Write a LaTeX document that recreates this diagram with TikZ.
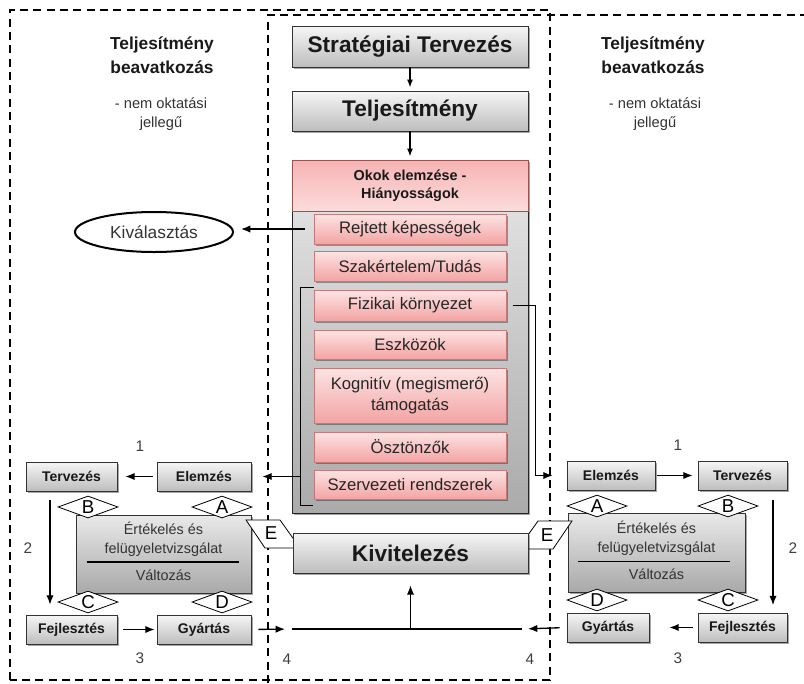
\documentclass[tikz,border=0pt]{standalone}
\usepackage{fontspec}
\setmainfont{Liberation Sans}
\usetikzlibrary{shapes.geometric,shadows,calc,arrows.meta}

\definecolor{gtop}{HTML}{F6F6F6}
\definecolor{gbot}{HTML}{BDBDBD}
\definecolor{etop}{HTML}{E9E9E9}
\definecolor{ebot}{HTML}{A9A9A9}
\definecolor{ptop}{HTML}{E8E8E8}
\definecolor{pbot}{HTML}{AAAAAA}
\definecolor{htop}{HTML}{F6B3B3}
\definecolor{hbot}{HTML}{FCDCDC}
\definecolor{hline}{HTML}{9A5252}
\definecolor{itop}{HTML}{FDE4E4}
\definecolor{ibot}{HTML}{F3A3A3}
\definecolor{iline}{HTML}{C47A7A}

\tikzset{
  shadowed/.style={drop shadow={shadow xshift=1.6pt,shadow yshift=-1.6pt,fill=black,opacity=0.35}},
  graybox/.style={shadowed,draw=black!80,line width=0.6pt,top color=gtop,bottom color=gbot,align=center,text=black!90,inner sep=0pt},
  bigtitle/.style={graybox,font=\fontsize{17}{20}\selectfont\bfseries},
  stepbox/.style={graybox,font=\fontsize{10.5}{12}\selectfont\bfseries},
  evalbox/.style={shadowed,draw=black!80,line width=0.6pt,top color=etop,bottom color=ebot,inner sep=0pt},
  evaltext/.style={font=\fontsize{10.8}{14.25}\selectfont,text=black!80,align=center,inner sep=0pt},
  panelbox/.style={shadowed,draw=black!85,line width=0.7pt,top color=ptop,bottom color=pbot,inner sep=0pt},
  causehead/.style={draw=hline,line width=0.6pt,top color=htop,bottom color=hbot,inner sep=0pt,
    font=\fontsize{10.8}{13.5}\selectfont\bfseries,align=center,text=black!90},
  causebox/.style={shadowed,draw=iline,line width=0.5pt,top color=itop,bottom color=ibot,inner sep=0pt,
    font=\fontsize{12.5}{15.75}\selectfont,text=black!85,align=center,minimum width=144pt},
  letterbox/.style={diamond,draw,fill=white,line width=0.6pt,inner sep=0pt,aspect=2.7,
    minimum width=45pt,minimum height=16.5pt,font=\fontsize{14}{14}\selectfont},
  eshape/.style={draw,fill=white,line width=0.6pt},
  eletter/.style={font=\fontsize{14}{14}\selectfont,inner sep=0pt},
  numlabel/.style={font=\fontsize{11.5}{12}\selectfont,text=black!75},
  headtitle/.style={font=\fontsize{13}{18}\selectfont\bfseries,align=center,text=black!90},
  headsub/.style={font=\fontsize{11}{14}\selectfont,align=center,text=black!80},
  frame/.style={dashed,dash pattern=on 6pt off 4pt,line width=1.3pt},
  conn/.style={line width=1pt},
  arr/.style={conn,-{Latex[length=7pt,width=5.5pt]}},
  smallarr/.style={conn,-{Latex[length=6pt,width=4.5pt]}}
}

\begin{document}
\begin{tikzpicture}[x=0.75pt,y=-0.75pt]
\useasboundingbox (0,0) rectangle (804,683);

% dashed frames
\draw[frame] (10,680) -- (10,10) -- (550,10) -- (550,680) -- cycle;
\draw[frame] (268,683) -- (268,15) -- (804,15);

% headings of the side areas
\node[headtitle] (lhead) at (162,55) {Teljesítmény\\beavatkozás};
\node[headsub] (lsub) at (161,114) {- nem oktatási\\jellegű};
\node[headtitle] (rhead) at (653,55) {Teljesítmény\\beavatkozás};
\node[headsub] (rsub) at (655,114) {- nem oktatási\\jellegű};

% central column
\node[bigtitle,minimum width=177pt,minimum height=30.75pt] (strat) at (410,46.5) {Stratégiai Tervezés};
\node[bigtitle,minimum width=177pt,minimum height=30pt] (perf) at (410,111) {Teljesítmény};
\node[panelbox,minimum width=177pt,minimum height=264.75pt] (panel) at (410,336.5) {};
\node[causehead,minimum width=177pt,minimum height=38.25pt] (causes) at (410,185.5) {Okok elemzése -\\Hiányosságok};
\node[causebox,minimum height=22.5pt] (c1) at (410,229) {Rejtett képességek};
\node[causebox,minimum height=22.5pt] (c2) at (410,266) {Szakértelem/Tudás};
\node[causebox,minimum height=23.25pt] (c3) at (410,305.5) {Fizikai környezet};
\node[causebox,minimum height=21.75pt] (c4) at (410,344.5) {Eszközök};
\node[causebox,minimum height=41.25pt] (c5) at (410,395.5) {Kognitív (megismerő)\\támogatás};
\node[causebox,minimum height=22.5pt] (c6) at (410,447) {Ösztönzők};
\node[causebox,minimum height=21.75pt] (c7) at (410,484.5) {Szervezeti rendszerek};

% selection
\node[ellipse,draw,line width=1.5pt,inner sep=0pt,minimum width=118.5pt,minimum height=30pt,
  font=\fontsize{13}{14}\selectfont,text=black!80] (sel) at (154,232) {Kiválasztás};

% left cycle
\node[evalbox,minimum width=131.25pt,minimum height=58.5pt] (leval) at (163.5,554) {};
\node[stepbox,minimum width=68.25pt,minimum height=21.75pt] (lterv) at (71.5,476.5) {Tervezés};
\node[stepbox,minimum width=70.5pt,minimum height=21.75pt] (lelem) at (204,476.5) {Elemzés};
\node[stepbox,minimum width=68.25pt,minimum height=21.75pt] (lfejl) at (71.5,629.5) {Fejlesztés};
\node[stepbox,minimum width=70.5pt,minimum height=21.75pt] (lgyar) at (204,629.5) {Gyártás};
\node[evaltext] (levt) at ($(leval.center)+(0,-14.5)$) {Értékelés és\\felügyeletvizsgálat};
\draw[line width=0.9pt] ($(leval.west)+(11,8)$) -- ($(leval.east)+(-12,8)$);
\node[evaltext] (levc) at ($(leval.center)+(0,21)$) {Változás};
\node[letterbox] (lB) at (88,507) {B};
\node[letterbox] (lA) at (222,507) {A};
\node[letterbox] (lC) at (88,602) {C};
\node[letterbox] (lD) at (222,602) {D};

% right cycle
\node[evalbox,minimum width=132.75pt,minimum height=59.25pt] (reval) at (656.5,552.5) {};
\node[stepbox,minimum width=66pt,minimum height=21.75pt] (relem) at (611,475.5) {Elemzés};
\node[stepbox,minimum width=66.75pt,minimum height=21.75pt] (rterv) at (742.5,475.5) {Tervezés};
\node[stepbox,minimum width=66.75pt,minimum height=21.75pt] (rfejl) at (742.5,627.5) {Fejlesztés};
\node[stepbox,minimum width=61.5pt,minimum height=21.75pt] (rgyar) at (608,627.5) {Gyártás};
\node[evaltext] (revt) at ($(reval.center)+(0,-14.5)$) {Értékelés és\\felügyeletvizsgálat};
\draw[line width=0.9pt] ($(reval.west)+(10,9)$) -- ($(reval.east)+(-15,9)$);
\node[evaltext] (revc) at ($(reval.center)+(0,22)$) {Változás};
\node[letterbox] (rA) at (597,506) {A};
\node[letterbox] (rB) at (728,506) {B};
\node[letterbox] (rD) at (597,600) {D};
\node[letterbox] (rC) at (728,600) {C};

% E tags behind the implementation box
\draw[eshape] (246,520) -- (280,520) -- (300,548) -- (265,548) -- cycle;
\node[eletter] (lE) at (271,533) {E};
\draw[eshape] (538,521) -- (572,521) -- (553,549) -- (518,549) -- cycle;
\node[eletter] (rE) at (547,535) {E};

\node[bigtitle,minimum width=176.25pt,minimum height=30pt] (kiv) at (410.5,553) {Kivitelezés};

% numbers
\node[numlabel] (n1l) at (140,446) {1};
\node[numlabel] (n2l) at (28,548) {2};
\node[numlabel] (n3l) at (140,658) {3};
\node[numlabel] (n4l) at (287,659) {4};
\node[numlabel] (n1r) at (678,445) {1};
\node[numlabel] (n2r) at (793,548) {2};
\node[numlabel] (n3r) at (678,658) {3};
\node[numlabel] (n4r) at (530,659) {4};

% central flow
\draw[smallarr,shorten >=2.25pt] (strat) -- (perf);
\draw[smallarr,shorten >=2.25pt] (perf) -- (causes);
\draw[arr,shorten <=6.75pt,shorten >=5.25pt] (c1.west) -- (c1.west -| sel.east);

% brackets around the cause list
\coordinate (lbr) at ($(c3.north west)+(-13,-2)$);
\draw[conn] ($(c3.north west)+(0,-2)$) -- (lbr) -- ($(c7.south west)+(-13,6)$) -- ($(c7.south west)+(-1,6)$);
\draw[arr,shorten >=8.25pt] (lbr |- lelem.east) -- (lelem.east);
\coordinate (rbr) at ($(c3.east)+(29,0)$);
\draw[arr,shorten >=10.5pt] ($(c3.east)+(7,0)$) -- (rbr) |- (relem.west);

% left cycle arrows
\draw[arr,shorten <=3pt,shorten >=6pt] (lelem) -- (lterv);
\draw[arr,shorten >=7.5pt] ($(lterv.south)+(-21.5,9)$) -- ($(lfejl.north)+(-21.5,0)$);
\draw[arr,shorten <=4.5pt,shorten >=1.5pt] (lfejl) -- (lgyar);

% right cycle arrows
\draw[arr,shorten <=1.5pt,shorten >=3.75pt] (relem) -- (rterv);
\draw[arr,shorten >=5.6pt] ($(rterv.south)+(30.5,10)$) -- ($(rfejl.north)+(30.5,0)$);
\draw[arr,shorten <=3.75pt,shorten >=15pt] (rfejl) -- (rgyar);

% joining line into the implementation
\coordinate (jl) at (292,629);
\coordinate (jr) at (522,629);
\draw[conn] (jl) -- (jr);
\draw[arr,shorten <=5.25pt,shorten >=5.25pt] (lgyar.east) -- (jl);
\draw[arr,shorten <=5.25pt,shorten >=4.5pt] (rgyar.west) -- (jr);
\draw[arr,shorten >=9pt] (kiv.south |- jl) -- (kiv.south);
\end{tikzpicture}
\end{document}
